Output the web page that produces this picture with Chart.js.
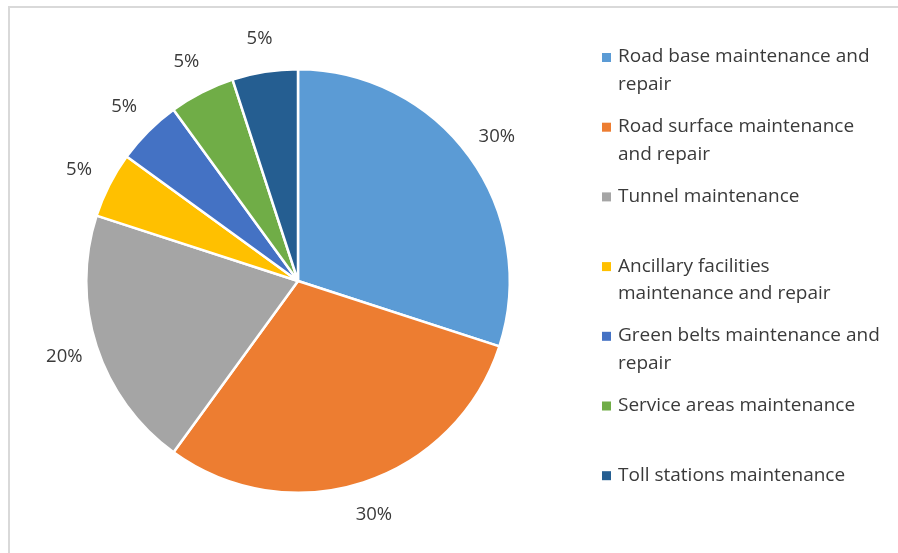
<!DOCTYPE html>
<html>
<head>
<meta charset="utf-8">
<script src="https://cdn.jsdelivr.net/npm/chart.js@4"></script>
<style>
  html, body { margin: 0; padding: 0; background: #fff; }
  #wrap { width: 898px; height: 553px; position: relative; }
</style>
</head>
<body>
<div id="wrap"><canvas id="costPie" width="898" height="553"></canvas></div>
<script>
// categories (legend lines as shown), shares in percent, slice colours
const categories = [
    ['Road base maintenance and', 'repair'],
    ['Road surface maintenance', 'and repair'],
    ['Tunnel maintenance'],
    ['Ancillary facilities', 'maintenance and repair'],
    ['Green belts maintenance and', 'repair'],
    ['Service areas maintenance'],
    ['Toll stations maintenance']
];
const shares = [30, 30, 20, 5, 5, 5, 5];
const colors = ['#5B9BD5', '#ED7D31', '#A5A5A5', '#FFC000', '#4472C4', '#70AD47', '#255E91'];

const FONT = '"Open Sans", Lato, sans-serif';

// percent labels outside each slice
const outsideLabels = {
    id: 'outsideLabels',
    afterDatasetsDraw(chart) {
        const ctx = chart.ctx;
        const meta = chart.getDatasetMeta(0);
        ctx.save();
        ctx.font = '18.5px ' + FONT;
        ctx.fillStyle = '#3a3a3a';
        ctx.textAlign = 'center';
        ctx.textBaseline = 'middle';
        meta.data.forEach(function (arc, i) {
            const mid = (arc.startAngle + arc.endAngle) / 2;
            const r = arc.outerRadius + 34;
            ctx.fillText(shares[i] + '%', arc.x + Math.cos(mid) * r, arc.y + Math.sin(mid) * r);
        });
        ctx.restore();
    }
};

// right-hand legend with wrapped lines, entries evenly spaced
const sideLegend = {
    id: 'sideLegend',
    afterDraw(chart) {
        const ctx = chart.ctx;
        ctx.save();
        // frame lines at top and left
        ctx.strokeStyle = '#D9D9D9';
        ctx.lineWidth = 2;
        ctx.beginPath();
        ctx.moveTo(9, 553);
        ctx.lineTo(9, 7);
        ctx.lineTo(898, 7);
        ctx.stroke();

        ctx.font = '19px ' + FONT;
        ctx.textBaseline = 'middle';
        const x0 = 602, tx = 618, top = 57, step = 69.7, lineH = 27.5;
        categories.forEach(function (lines, i) {
            const y = top + i * step;
            ctx.fillStyle = colors[i];
            ctx.fillRect(x0, y - 4, 9, 9);
            ctx.fillStyle = '#3a3a3a';
            lines.forEach(function (t, j) {
                ctx.fillText(t, tx, y + j * lineH);
            });
        });
        ctx.restore();
    }
};

new Chart(document.getElementById('costPie').getContext('2d'), {
    type: 'pie',
    data: {
        labels: categories.map(function (l) { return l.join(' '); }),
        datasets: [{
            data: shares,
            backgroundColor: colors,
            borderColor: '#ffffff',
            borderWidth: 2.5
        }]
    },
    options: {
        responsive: false,
        animation: false,
        layout: { padding: { left: 85, right: 387, top: 68, bottom: 59 } },
        plugins: {
            legend: { display: false },
            tooltip: { enabled: false }
        }
    },
    plugins: [outsideLabels, sideLegend]
});
</script>
</body>
</html>
